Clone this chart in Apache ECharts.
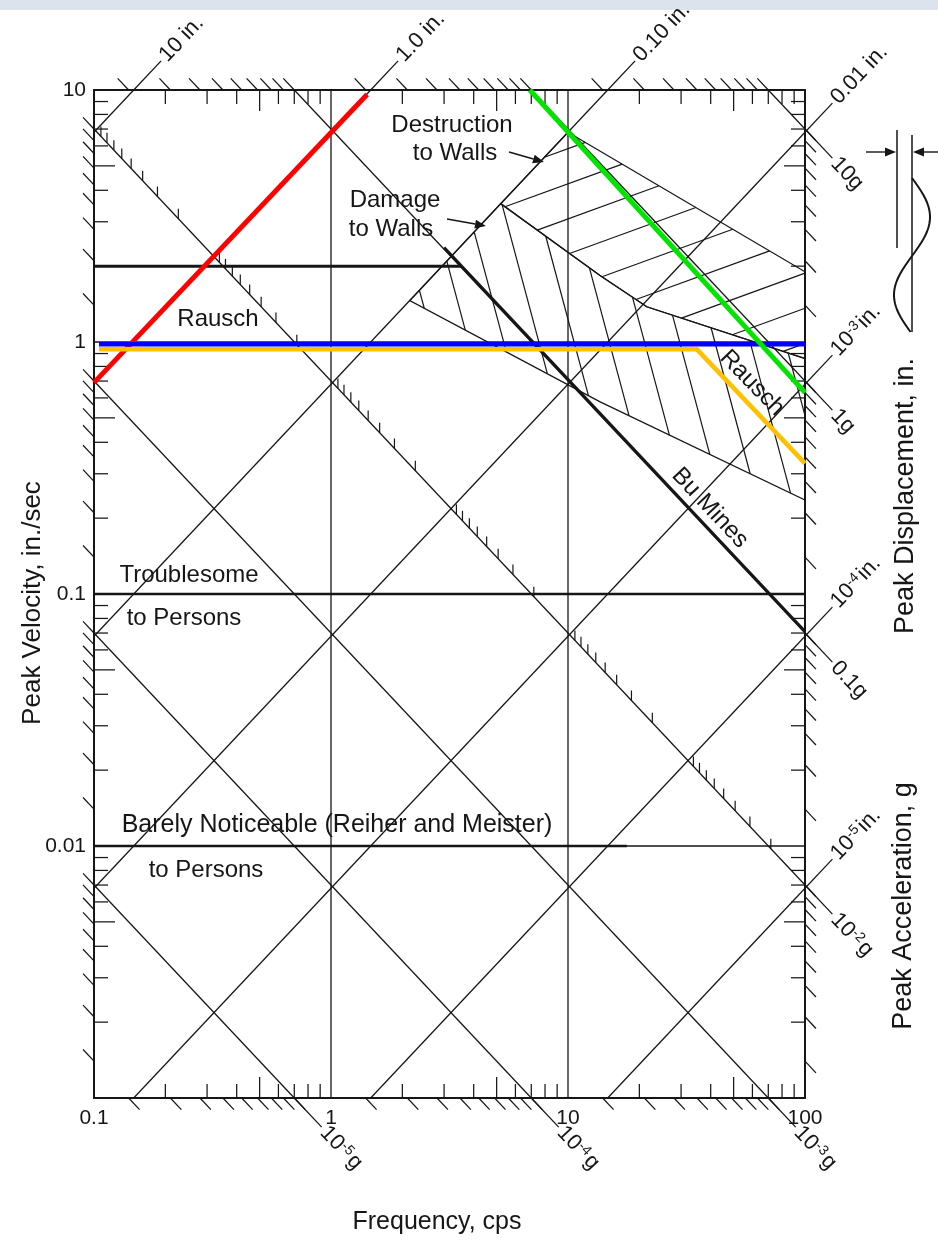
<!DOCTYPE html>
<html>
<head>
<meta charset="utf-8">
<script src="https://cdn.jsdelivr.net/npm/echarts@6/dist/echarts.min.js"></script>
<style>
  html, body { margin: 0; padding: 0; background: #ffffff; }
  #chart { width: 938px; height: 1243px; }
</style>
</head>
<body>
<div id="chart"></div>
<script>
// ---- axes -------------------------------------------------------------
const freqTickLabels = ['0.1', '1', '10', '100'];          // 10^-1 .. 10^2 cps
const velTickLabels = ['', '0.01', '0.1', '1', '10'];      // 10^-3 .. 10^1 in./sec

// ---- diagonal scales (peak displacement / peak acceleration) ---------
const dispLevels = [10, 1, 0.1, 0.01, 1e-3, 1e-4, 1e-5];   // in.
const dispLabels = ['10 in.', '1.0 in.', '0.10 in.', '0.01 in.', '10{s|-3}in.', '10{s|-4}in.', '10{s|-5}in.'];
const accLevels = [10, 1, 0.1, 0.01, 1e-3, 1e-4, 1e-5];    // g
const accLabels = ['10g', '1g', '0.1g', '10{s|-2}g', '10{s|-3}g', '10{s|-4}g', '10{s|-5}g'];

// ---- damage / perception criteria (cps, in./sec) ----------------------
const buMinesFlat = [[0.1, 2], [3.55, 2]];
const buMinesSlope = [[3.0, 2.37], [100, 0.071]];
const troublesome = [[0.1, 0.1], [100, 0.1]];
const barelyNoticeable = [[0.1, 0.01], [17.7, 0.01]];
const destructionZone = [[5.2, 3.54], [10, 6.8], [100, 1.9], [100, 0.86], [21.5, 1.38], [13.6, 1.84]];
const damageZone = [[2.15, 1.46], [5.2, 3.54], [13.6, 1.84], [21.5, 1.38], [100, 0.86], [100, 0.236], [13.6, 0.58]];

// ---- highlighted limits ----------------------------------------------
const redLimit = [[0.1, 0.69], [1.42, 9.6]];
const blueLimit = [[0.105, 0.98], [100, 0.98]];
const yellowLimit = [[0.105, 0.935], [35, 0.935], [100, 0.33]];
const greenLimit = [[6.9, 10], [100, 0.63]];

// nomograph relations: v = K_DISP * f * d,  v = K_ACC * a / f
const K_DISP = 6.8;
const K_ACC = 70;
const F_MIN = 0.1, F_MAX = 100, V_MIN = 0.001, V_MAX = 10;

const INK = '#161616';
const FONT = '"Liberation Sans", Arial, sans-serif';
const GRID = { left: 94, top: 90, width: 711, height: 1008 };

function unit(a, b) {
  const dx = b[0] - a[0], dy = b[1] - a[1], l = Math.hypot(dx, dy);
  return [dx / l, dy / l];
}
function seg(a, b, w) {
  return { type: 'line', shape: { x1: a[0], y1: a[1], x2: b[0], y2: b[1] },
           style: { stroke: INK, lineWidth: w || 1.25 } };
}
function move(p, d, l) { return [p[0] + d[0] * l, p[1] + d[1] * l]; }
function diagText(text, p, rot) {
  return { type: 'text', x: p[0], y: p[1], rotation: rot,
    style: { text: text, fill: INK, fontSize: 22, fontFamily: FONT, align: 'left', verticalAlign: 'middle',
             rich: { s: { fontSize: 14, fontFamily: FONT, fill: INK, verticalAlign: 'top', padding: [0, 2, 8, 0] } } } };
}

// parallel hatch lines clipped to a polygon (pixel space)
function hatch(poly, angleDeg, spacing, phase) {
  const r = angleDeg * Math.PI / 180;
  const u = [Math.cos(r), Math.sin(r)], n = [-u[1], u[0]];
  const proj = poly.map(p => p[0] * n[0] + p[1] * n[1]);
  const lo = Math.min(...proj), hi = Math.max(...proj);
  const out = [];
  for (let s = Math.ceil((lo - phase) / spacing) * spacing + phase; s < hi; s += spacing) {
    const hits = [];
    for (let i = 0; i < poly.length; i++) {
      const j = (i + 1) % poly.length;
      const da = proj[i] - s, db = proj[j] - s;
      if ((da < 0) !== (db < 0)) {
        const t = da / (da - db);
        hits.push([poly[i][0] + t * (poly[j][0] - poly[i][0]), poly[i][1] + t * (poly[j][1] - poly[i][1])]);
      }
    }
    hits.sort((p, q) => (p[0] * u[0] + p[1] * u[1]) - (q[0] * u[0] + q[1] * u[1]));
    for (let k = 0; k + 1 < hits.length; k += 2) out.push(seg(hits[k], hits[k + 1], 1.2));
  }
  return out;
}
function outline(poly) {
  return { type: 'polygon', shape: { points: poly }, style: { fill: null, stroke: INK, lineWidth: 1.3 } };
}

function renderFrame(params, api) {
  const P = (f, v) => api.coord([f, v]);
  const out = [];
  const eps = 1e-9;
  const inF = f => f >= F_MIN * (1 - eps) && f <= F_MAX * (1 + eps);
  const inV = v => v >= V_MIN * (1 - eps) && v <= V_MAX * (1 + eps);

  // grid lines at the decades
  [1, 10].forEach(f => out.push(seg(P(f, V_MIN), P(f, V_MAX), 1.3)));
  [0.01, 0.1, 1].forEach(v => out.push(seg(P(F_MIN, v), P(F_MAX, v), 1.3)));

  const dirD = unit(P(1, K_DISP), P(10, 10 * K_DISP));   // constant displacement, up-right
  const dirA = unit(P(1, K_ACC), P(10, K_ACC / 10));      // constant acceleration, down-right
  const rotD = Math.atan2(-dirD[1], dirD[0]);
  const rotA = Math.atan2(-dirA[1], dirA[0]);
  const EXT = 40;

  // constant-displacement lines
  dispLevels.forEach((d, i) => {
    const f0 = Math.max(F_MIN, V_MIN / (K_DISP * d)), f1 = Math.min(F_MAX, V_MAX / (K_DISP * d));
    if (f0 >= f1) return;
    const a = P(f0, K_DISP * f0 * d), b = P(f1, K_DISP * f1 * d);
    out.push(seg(a, b));
    out.push(seg(b, move(b, dirD, EXT)));
    out.push(diagText(dispLabels[i], move(b, dirD, EXT + 3), rotD));
  });
  // constant-acceleration lines
  accLevels.forEach((g, i) => {
    const f0 = Math.max(F_MIN, K_ACC * g / V_MAX), f1 = Math.min(F_MAX, K_ACC * g / V_MIN);
    if (f0 >= f1) return;
    const a = P(f0, K_ACC * g / f0), b = P(f1, K_ACC * g / f1);
    out.push(seg(a, b));
    out.push(seg(b, move(b, dirA, EXT)));
    out.push(diagText(accLabels[i], move(b, dirA, EXT + 3), rotA));
  });

  // minor ticks inside the frame
  const mults = [2, 3, 4, 5, 6, 7, 8, 9];
  for (let e = -1; e < 2; e++) mults.forEach(m => {
    const f = m * Math.pow(10, e), len = m === 5 ? 21 : 14;
    const b = P(f, V_MIN), t = P(f, V_MAX);
    out.push(seg(b, [b[0], b[1] - len]), seg(t, [t[0], t[1] + len]));
  });
  for (let e = -3; e < 1; e++) mults.forEach(m => {
    const v = m * Math.pow(10, e), len = m === 5 ? 21 : 14;
    const l = P(F_MIN, v), r = P(F_MAX, v);
    out.push(seg(l, [l[0] + len, l[1]]), seg(r, [r[0] - len, r[1]]));
  });

  // acceleration scale ticks outside the frame
  const TL = 16;
  for (let e = -8; e <= 2; e++) for (let m = 1; m <= 9; m++) {
    const g = m * Math.pow(10, e);
    const vl = K_ACC * g / F_MIN, vr = K_ACC * g / F_MAX;
    const ft = K_ACC * g / V_MAX, fb = K_ACC * g / V_MIN;
    if (inV(vl)) { const p = P(F_MIN, vl); out.push(seg(p, move(p, dirA, -TL))); }
    if (inV(vr)) { const p = P(F_MAX, vr); out.push(seg(p, move(p, dirA, TL))); }
    if (inF(ft)) { const p = P(ft, V_MAX); out.push(seg(p, move(p, dirA, -TL))); }
    if (inF(fb)) { const p = P(fb, V_MIN); out.push(seg(p, move(p, dirA, TL))); }
  }

  // displacement ticks along the 10^-2 g line
  for (let e = -7; e <= 1; e++) for (let m = 2; m <= 9; m++) {
    const d = m * Math.pow(10, e);
    const f = Math.sqrt(K_ACC * 0.01 / (K_DISP * d));
    if (!inF(f)) continue;
    const p = P(f, K_ACC * 0.01 / f);
    out.push(seg(p, [p[0], p[1] - 10], 1.2));
  }

  // hatched wall-damage zones
  const dz = destructionZone.map(p => P(p[0], p[1]));
  const mz = damageZone.map(p => P(p[0], p[1]));
  out.push(...hatch(dz, -20, 33, 4));
  out.push(...hatch(mz, 75, 34, 10));
  out.push(outline(dz), outline(mz));

  return { type: 'group', children: out };
}

function lineSeries(name, data, color, width, z) {
  return { name: name, type: 'line', data: data, symbol: 'none', z: z, silent: true,
           lineStyle: { color: color, width: width, cap: 'butt', join: 'miter' }, animation: false };
}

function axisLabelFor(list, minExp) {
  return v => { const k = Math.round(Math.log10(v)) - minExp; return list[k] === undefined ? '' : list[k]; };
}

function note(text, x, y, rot, size) {
  return { type: 'text', x: x, y: y, rotation: rot || 0, z: 20,
    style: { text: text, fill: INK, fontSize: size || 24, fontFamily: FONT, align: 'center', verticalAlign: 'middle' } };
}
function arrow(x1, y1, x2, y2) {
  const a = Math.atan2(y2 - y1, x2 - x1), h = 11, w = 4.5;
  const bx = x2 - h * Math.cos(a), by = y2 - h * Math.sin(a);
  return [
    { type: 'line', shape: { x1: x1, y1: y1, x2: bx, y2: by }, style: { stroke: INK, lineWidth: 1.4 }, z: 20 },
    { type: 'polygon', z: 20, shape: { points: [[x2, y2],
        [bx + w * Math.sin(a), by - w * Math.cos(a)], [bx - w * Math.sin(a), by + w * Math.cos(a)]] },
      style: { fill: INK } }
  ];
}

// small sketch of the sinusoidal motion
function sineSketch() {
  const pts = [];
  for (let y = 178; y <= 333; y += 2) pts.push([912 + 18 * Math.sin(Math.PI * (y - 178) / 78), y]);
  return [
    { type: 'line', shape: { x1: 897, y1: 130, x2: 897, y2: 248 }, style: { stroke: INK, lineWidth: 1.5 } },
    { type: 'line', shape: { x1: 912, y1: 135, x2: 912, y2: 332 }, style: { stroke: INK, lineWidth: 1.5 } },
    { type: 'polyline', shape: { points: pts }, style: { stroke: INK, lineWidth: 2, fill: null } },
    ...arrow(866, 152, 896, 152),
    ...arrow(938, 152, 913, 152)
  ];
}

const chart = echarts.init(document.getElementById('chart'));
chart.setOption({
  animation: false,
  backgroundColor: '#ffffff',
  grid: GRID,
  xAxis: [
    { type: 'log', logBase: 10, min: F_MIN, max: F_MAX, position: 'bottom',
      axisLine: { show: true, lineStyle: { color: INK, width: 2 } },
      axisTick: { show: false }, splitLine: { show: false }, minorTick: { show: false },
      axisLabel: { formatter: axisLabelFor(freqTickLabels, -1), color: INK, fontSize: 21, fontFamily: FONT,
                   margin: 10, showMinLabel: true, showMaxLabel: true } },
    { type: 'log', logBase: 10, min: F_MIN, max: F_MAX, position: 'top',
      axisLine: { show: true, lineStyle: { color: INK, width: 2 } },
      axisTick: { show: false }, splitLine: { show: false }, axisLabel: { show: false } }
  ],
  yAxis: [
    { type: 'log', logBase: 10, min: V_MIN, max: V_MAX, position: 'left',
      axisLine: { show: true, lineStyle: { color: INK, width: 2 } },
      axisTick: { show: false }, splitLine: { show: false }, minorTick: { show: false },
      axisLabel: { formatter: axisLabelFor(velTickLabels, -3), color: INK, fontSize: 21, fontFamily: FONT,
                   margin: 8, showMinLabel: true, showMaxLabel: true } },
    { type: 'log', logBase: 10, min: V_MIN, max: V_MAX, position: 'right',
      axisLine: { show: true, lineStyle: { color: INK, width: 2 } },
      axisTick: { show: false }, splitLine: { show: false }, axisLabel: { show: false } }
  ],
  series: [
    { type: 'custom', renderItem: renderFrame, data: [[1, 1]], z: 2, silent: true, clip: false },
    lineSeries('Bu Mines', buMinesFlat, INK, 3, 3),
    lineSeries('Bu Mines', buMinesSlope, INK, 3, 3),
    lineSeries('Troublesome to Persons', troublesome, INK, 2.6, 3),
    lineSeries('Barely Noticeable to Persons', barelyNoticeable, INK, 2.6, 3),
    lineSeries('limit A', redLimit, '#ff0000', 5, 5),
    lineSeries('limit B', yellowLimit, '#ffc000', 4.5, 5),
    lineSeries('limit C', blueLimit, '#0000ff', 4.5, 6),
    lineSeries('limit D', greenLimit, '#00e400', 5, 6)
  ],
  graphic: [
    { type: 'rect', shape: { x: 0, y: 0, width: 938, height: 10 }, style: { fill: '#dde3ec' }, z: 1 },
    note('Rausch', 218, 319),
    note('Troublesome', 189, 575),
    note('to Persons', 184, 618),
    note('Barely Noticeable (Reiher and Meister)', 337, 825, 0, 25),
    note('to Persons', 206, 870),
    note('Destruction', 452, 125),
    note('to Walls', 455, 153),
    note('Damage', 395, 200),
    note('to Walls', 391, 229),
    note('Bu Mines', 710, 508, -0.82),
    note('Rausch', 752, 383, -0.80),
    ...arrow(509, 152, 544, 162),
    ...arrow(447, 219, 486, 226),
    note('Peak Velocity, in./sec', 33, 603, Math.PI / 2, 26),
    note('Frequency, cps', 437, 1222, 0, 25),
    note('Peak Displacement, in.', 906, 496, Math.PI / 2, 27),
    note('Peak Acceleration, g', 904, 906, Math.PI / 2, 27),
    ...sineSketch()
  ]
});
</script>
</body>
</html>
